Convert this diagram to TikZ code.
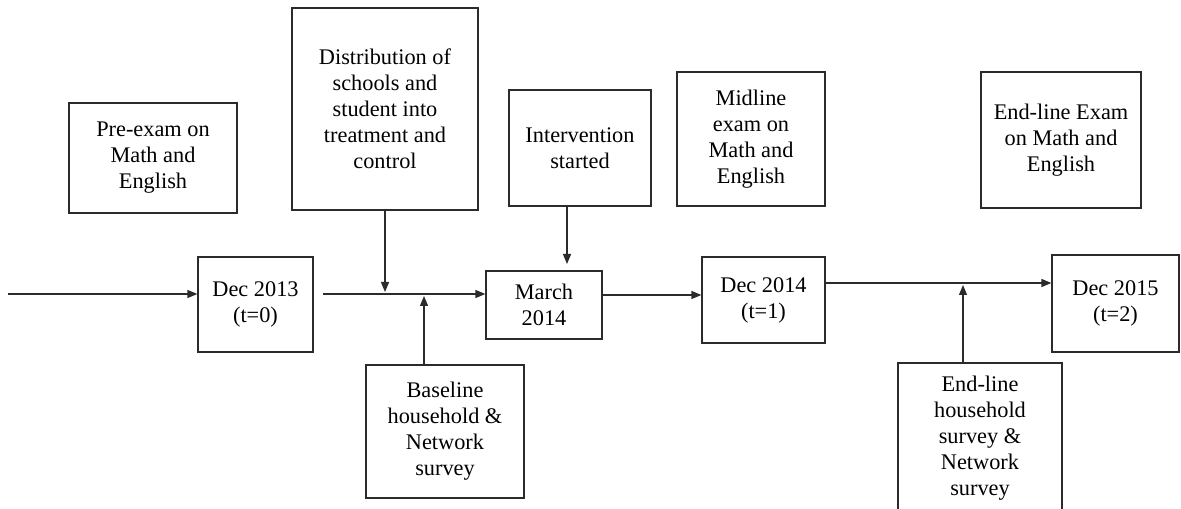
\documentclass[tikz,border=0pt]{standalone}
\usepackage{fontspec}
\setmainfont{Liberation Serif}
\usetikzlibrary{arrows.meta, positioning, calc}
\definecolor{framegray}{HTML}{2B2B2B}

\begin{document}
\begin{tikzpicture}[
  stage/.style={
    rectangle, draw=framegray, line width=0.7pt,
    align=center, inner sep=2pt,
    font=\fontsize{12.7}{14.8}\selectfont
  },
  flow/.style={line width=0.7pt, framegray, -{Triangle[length=0.2cm, width=0.16cm]}}
]
  \useasboundingbox (0,0) rectangle (23.62,10.16);
  \clip (0,0) rectangle (23.62,10.16);

  % Events above the time line
  \node[stage, minimum width=3.36cm, minimum height=2.2cm] (preexam) at (3.06,7.0)
    {Pre-exam on\\Math and\\English};
  \node[stage, minimum width=3.72cm, minimum height=4.04cm] (distrib) at (7.7,7.98)
    {Distribution of\\schools and\\student into\\treatment and\\control};
  \node[stage, minimum width=2.84cm, minimum height=2.32cm] (interv) at (11.6,7.2)
    {Intervention\\started};
  \node[stage, minimum width=2.96cm, minimum height=2.68cm] (midexam) at (15.02,7.38)
    {Midline\\exam on\\Math and\\English};
  \node[stage, minimum width=3.2cm, minimum height=2.72cm] (endexam) at (21.22,7.36)
    {End-line Exam\\on Math and\\English};

  % Time points
  \node[stage, minimum width=2.3cm, minimum height=1.9cm] (dec13) at (5.11,4.07)
    {Dec 2013\\(t=0)};
  \node[stage, minimum width=2.32cm, minimum height=1.36cm] (march14) at (10.88,4.06)
    {March\\2014};
  \node[stage, minimum width=2.46cm, minimum height=1.72cm] (dec14) at (15.27,4.16)
    {Dec 2014\\(t=1)};
  \node[stage, minimum width=2.54cm, minimum height=1.94cm] (dec15) at (22.31,4.09)
    {Dec 2015\\(t=2)};

  % Surveys below the time line
  \node[stage, minimum width=3.16cm, minimum height=2.66cm] (basesurv) at (8.9,1.53)
    {Baseline\\household \&\\Network\\survey};
  \node[stage, minimum width=3.28cm, minimum height=3.02cm] (endsurv) at (19.6,1.39)
    {End-line\\household\\survey \&\\Network\\survey};

  % Time line
  \coordinate (start) at (0.16,4.28);
  \coordinate (j1) at (7.7,4.28);
  \coordinate (j2) at (8.48,4.28);
  \coordinate (j3) at (11.34,4.88);
  \coordinate (j4) at (19.26,4.5);

  \draw[flow] (start) -- (start -| dec13.west);
  \draw[flow] ([xshift=0.18cm]dec13.east |- start) -- (start -| march14.west);
  \draw[flow] ([yshift=0.2cm]march14.east) -- ([yshift=0.2cm]march14.east -| dec14.west);
  \draw[flow] (dec14.east |- j4) -- (j4 -| dec15.west);

  % Events feeding the time line
  \draw[flow] (distrib.south) -- ([yshift=0.04cm]j1);
  \draw[flow] (basesurv.north -| j2) -- ([yshift=-0.04cm]j2);
  \draw[flow] (interv.south -| j3) -- (j3);
  \draw[flow] (endsurv.north -| j4) -- ([yshift=-0.04cm]j4);
\end{tikzpicture}
\end{document}
